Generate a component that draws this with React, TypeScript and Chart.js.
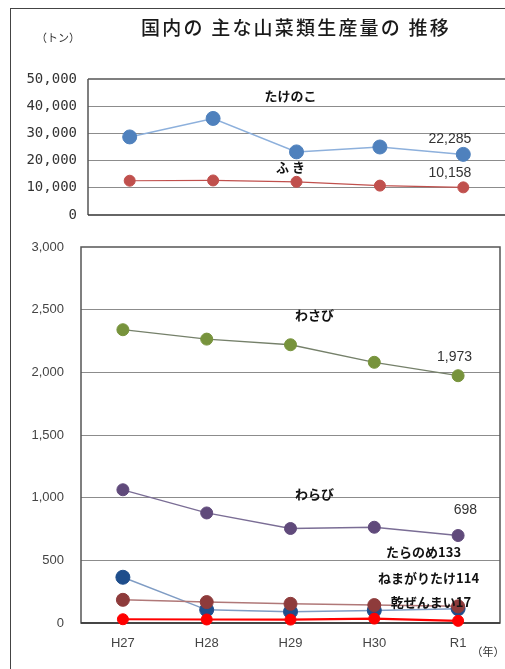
import React, { useEffect, useRef } from 'react';
import { Chart, registerables } from 'chart.js';

Chart.register(...registerables);

const categories = ['H27', 'H28', 'H29', 'H30', 'R1'];
const takenoko = [28700, 35500, 23200, 25000, 22285];
const fuki = [12600, 12700, 12200, 10800, 10158];
const wasabi = [2340, 2265, 2220, 2080, 1973];
const warabi = [1063, 878, 754, 764, 698];
const taranome = [185, 167, 153, 143, 133];
const nemagaritake = [365, 105, 90, 100, 114];
const kanzenmai = [30, 28, 27, 35, 17];

const TITLE = '国内の 主な山菜類生産量の 推移';
const UNIT_Y = '（トン）';
const UNIT_X = '（年）';

const JP = '"Noto Sans CJK JP", "Noto Sans", sans-serif';
const fmt = (v: number) => Number(v).toLocaleString('en-US');

const TOP_H = 230;
const BOT_H = 669 - TOP_H;

function drawText(ctx: CanvasRenderingContext2D, text: string, x: number, y: number, font: string, color: string, align: CanvasTextAlign = 'center', spacing = 0) {
  ctx.save();
  ctx.font = font;
  ctx.fillStyle = color;
  ctx.textAlign = align;
  ctx.textBaseline = 'middle';
  try { (ctx as any).letterSpacing = spacing + 'px'; } catch (e) {}
  ctx.fillText(text, x, y);
  ctx.restore();
}

const topPlugin = {
  id: 'topDeco',
  beforeDatasetsDraw(chart: any) {
    const { ctx, chartArea: a } = chart;
    ctx.save();
    ctx.lineWidth = 1.5;
    ctx.strokeStyle = '#555';
    ctx.beginPath();
    ctx.moveTo(a.left, a.top); ctx.lineTo(a.right, a.top);
    ctx.moveTo(a.left, a.top); ctx.lineTo(a.left, a.bottom);
    ctx.stroke();
    ctx.strokeStyle = '#333';
    ctx.beginPath();
    ctx.moveTo(a.left, a.bottom); ctx.lineTo(a.right, a.bottom);
    ctx.stroke();
    ctx.restore();
  },
  afterDatasetsDraw(chart: any) {
    const { ctx } = chart;
    const x = chart.scales.x, y = chart.scales.y;
    drawText(ctx, TITLE, 296, 28, `500 19px ${JP}`, '#1a1a1a', 'center', 2.2);
    drawText(ctx, UNIT_Y, 58, 38, `11px ${JP}`, '#333');
    const bold = `bold 13px ${JP}`;
    drawText(ctx, 'たけのこ', x.getPixelForValue(2) - 6, y.getPixelForValue(43750), bold, '#111');
    drawText(ctx, 'ふ き', x.getPixelForValue(2) - 6, y.getPixelForValue(17650), bold, '#111');
    const num = '14px "Liberation Sans", Arial, sans-serif';
    drawText(ctx, fmt(takenoko[4]), x.getPixelForValue(4) + 8, y.getPixelForValue(28000), num, '#333', 'right');
    drawText(ctx, fmt(fuki[4]), x.getPixelForValue(4) + 8, y.getPixelForValue(15450), num, '#333', 'right');
  },
};

const botPlugin = {
  id: 'botDeco',
  beforeDatasetsDraw(chart: any) {
    const { ctx, chartArea: a } = chart;
    ctx.save();
    ctx.lineWidth = 1.5;
    ctx.strokeStyle = '#555';
    ctx.strokeRect(a.left, a.top, a.right - a.left, a.bottom - a.top);
    ctx.strokeStyle = '#333';
    ctx.beginPath();
    ctx.moveTo(a.left, a.bottom); ctx.lineTo(a.right, a.bottom);
    ctx.stroke();
    ctx.restore();
  },
  afterDatasetsDraw(chart: any) {
    const { ctx } = chart;
    const x = chart.scales.x, y = chart.scales.y;
    const bold = `bold 13px ${JP}`;
    const num = '14px "Liberation Sans", Arial, sans-serif';
    drawText(ctx, 'わさび', x.getPixelForValue(2) + 24, y.getPixelForValue(2460), bold, '#111');
    drawText(ctx, fmt(wasabi[4]), x.getPixelForValue(4) + 14, y.getPixelForValue(2122), num, '#333', 'right');
    drawText(ctx, 'わらび', x.getPixelForValue(2) + 24, y.getPixelForValue(1029), bold, '#111');
    drawText(ctx, fmt(warabi[4]), x.getPixelForValue(4) + 19, y.getPixelForValue(902), num, '#333', 'right');
    drawText(ctx, 'たらのめ' + taranome[4], x.getPixelForValue(4) + 3, y.getPixelForValue(566), bold, '#111', 'right');
    drawText(ctx, 'ねまがりたけ' + nemagaritake[4], x.getPixelForValue(4) + 21, y.getPixelForValue(359), bold, '#111', 'right');
    drawText(ctx, '乾ぜんまい' + kanzenmai[4], x.getPixelForValue(4) + 13, y.getPixelForValue(168), bold, '#111', 'right');
    drawText(ctx, UNIT_X, 488, 652 - TOP_H, `11px ${JP}`, '#333');
  },
};

function ds(label: string, data: number[], line: string, fill: string, r: number, bw = 1.5) {
  return {
    label, data,
    borderColor: line, borderWidth: bw,
    pointBackgroundColor: fill, pointBorderColor: fill,
    pointRadius: r, pointBorderWidth: 1, pointHoverRadius: r,
    tension: 0, fill: false, clip: false,
  };
}

export default function App() {
  const topRef = useRef<HTMLCanvasElement>(null);
  const botRef = useRef<HTMLCanvasElement>(null);

  useEffect(() => {
    const top = new Chart(topRef.current as HTMLCanvasElement, {
      type: 'line',
      data: {
        labels: categories,
        datasets: [
          ds('たけのこ', takenoko, '#8db0dc', '#4f81bd', 7, 1.5),
          ds('ふき', fuki, '#c0504d', '#c0504d', 5.5, 1.2),
        ],
      },
      options: {
        animation: false,
        responsive: false,
        layout: { autoPadding: false, padding: { top: 79, bottom: 15, left: 0, right: 0 } },
        plugins: { legend: { display: false }, tooltip: { enabled: false }, title: { display: false } },
        scales: {
          x: { type: 'category', display: false, offset: true },
          y: {
            min: 0, max: 50000,
            ticks: { stepSize: 10000, callback: (v: any) => fmt(v), padding: 11, color: '#333', font: { family: '"DejaVu Sans Mono", monospace', size: 14 } },
            grid: { drawTicks: false, color: (c: any) => (c.tick && (c.tick.value === 0 || c.tick.value === 50000) ? 'rgba(0,0,0,0)' : '#8c8c8c'), lineWidth: 1 },
            border: { display: false },
            afterFit: (s: any) => { s.width = 88; s.paddingTop = 0; s.paddingBottom = 0; },
          },
        },
      },
      plugins: [topPlugin],
    } as any);

    const bot = new Chart(botRef.current as HTMLCanvasElement, {
      type: 'line',
      data: {
        labels: categories,
        datasets: [
          ds('乾ぜんまい', kanzenmai, '#ff0000', '#ff0000', 5.5, 2.2),
          ds('たらのめ', taranome, '#b07878', '#8e3b3b', 6.5, 1.5),
          ds('ねまがりたけ', nemagaritake, '#7f9cc4', '#1f4e8c', 7, 1.5),
          ds('わらび', warabi, '#7a6d95', '#604a7b', 6, 1.3),
          ds('わさび', wasabi, '#75806a', '#77933c', 6, 1.3),
        ],
      },
      options: {
        animation: false,
        responsive: false,
        layout: { autoPadding: false, padding: { top: 17, bottom: 0, left: 0, right: 5 } },
        plugins: { legend: { display: false }, tooltip: { enabled: false }, title: { display: false } },
        scales: {
          x: {
            type: 'category', offset: true,
            grid: { display: false, drawTicks: false },
            border: { display: false },
            ticks: { padding: 13, color: '#444', font: { family: '"Liberation Sans", Arial, sans-serif', size: 13 } },
            afterFit: (s: any) => { s.height = 46; s.paddingLeft = 0; s.paddingRight = 0; },
          },
          y: {
            min: 0, max: 3000,
            ticks: { stepSize: 500, callback: (v: any) => fmt(v), padding: 17, color: '#444', font: { family: '"Liberation Sans", Arial, sans-serif', size: 13 } },
            grid: { drawTicks: false, color: (c: any) => (c.tick && (c.tick.value === 0 || c.tick.value === 3000) ? 'rgba(0,0,0,0)' : '#8c8c8c'), lineWidth: 1 },
            border: { display: false },
            afterFit: (s: any) => { s.width = 81; s.paddingTop = 0; s.paddingBottom = 0; },
          },
        },
      },
      plugins: [botPlugin],
    } as any);

    return () => { top.destroy(); bot.destroy(); };
  }, []);

  return (
    <div style={{ position: 'absolute', left: 0, top: 0, width: 505, height: 669, background: '#fff', overflow: 'hidden' }}>
      <div style={{ position: 'absolute', left: 10, top: 8, width: 500, height: 670, borderLeft: '1.5px solid #444', borderTop: '1.5px solid #444' }} />
      <canvas ref={topRef} width={505} height={TOP_H} style={{ position: 'absolute', left: 0, top: 0, width: 505, height: TOP_H }} />
      <canvas ref={botRef} width={505} height={BOT_H} style={{ position: 'absolute', left: 0, top: TOP_H, width: 505, height: BOT_H }} />
    </div>
  );
}
